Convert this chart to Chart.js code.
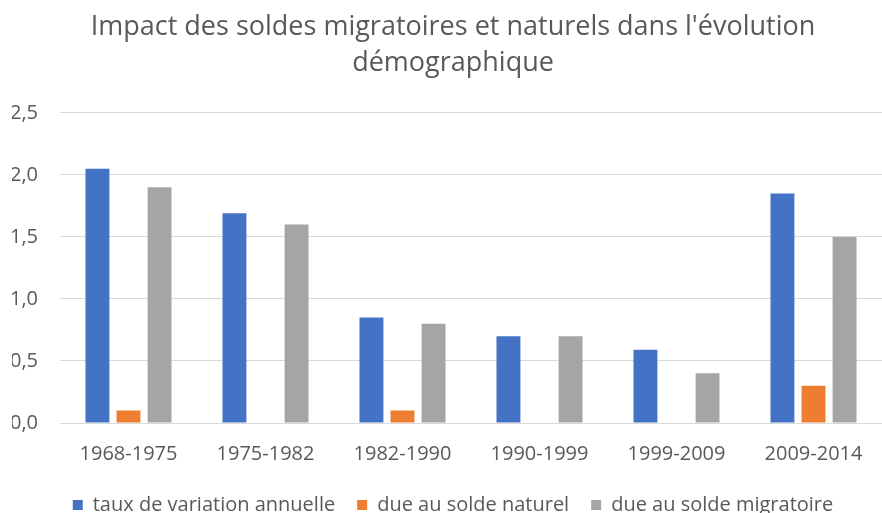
<!DOCTYPE html>
<html>
<head>
<meta charset="utf-8">
<script src="https://cdn.jsdelivr.net/npm/chart.js@4/dist/chart.umd.min.js"></script>
<style>
    html, body { margin: 0; padding: 0; background: #fff; }
    #wrap { width: 882px; height: 513px; }
</style>
</head>
<body>
<div id="wrap"><canvas id="chart" width="882" height="513"></canvas></div>
<script>
const periods = ["1968-1975", "1975-1982", "1982-1990", "1990-1999", "1999-2009", "2009-2014"];
const tauxVariation = [2.05, 1.69, 0.85, 0.7, 0.59, 1.85];
const soldeNaturel = [0.1, 0, 0.1, 0, 0, 0.3];
const soldeMigratoire = [1.9, 1.6, 0.8, 0.7, 0.4, 1.5];
const yTicks = [0, 0.5, 1, 1.5, 2, 2.5];

const textColor = "#595959";
const fontFamily = "'Open Sans', sans-serif";

const makeSet = (label, data, color) => ({
    label,
    data,
    backgroundColor: color,
    borderWidth: 0,
    categoryPercentage: 0.68,
    barPercentage: 0.77
});

new Chart(document.getElementById("chart"), {
    type: "bar",
    data: {
        labels: periods,
        datasets: [
            makeSet("taux de variation annuelle", tauxVariation, "#4472C4"),
            makeSet("due au solde naturel", soldeNaturel, "#ED7D31"),
            makeSet("due au solde migratoire", soldeMigratoire, "#A5A5A5")
        ]
    },
    options: {
        responsive: false,
        animation: false,
        // the reference is cropped on the right and its legend sits low,
        // so the layout runs a little past the right and bottom edges
        layout: { padding: { left: 12, right: -12, top: 9, bottom: -12 } },
        plugins: {
            title: {
                display: true,
                text: ["Impact des soldes migratoires et naturels dans l'évolution", "démographique"],
                color: textColor,
                font: { family: fontFamily, size: 27, weight: "normal", lineHeight: 1.33 },
                padding: { top: 0, bottom: 32 }
            },
            legend: {
                position: "bottom",
                labels: {
                    color: textColor,
                    font: { family: fontFamily, size: 20 },
                    boxWidth: 10,
                    boxHeight: 10,
                    padding: 22
                }
            },
            tooltip: { enabled: false }
        },
        scales: {
            x: {
                afterFit: (scale) => {
                    scale.height = 50;
                },
                grid: { display: false },
                border: { display: false },
                ticks: { color: textColor, font: { family: fontFamily, size: 20 }, padding: 11 }
            },
            y: {
                min: 0,
                max: 2.5,
                afterBuildTicks: (scale) => {
                    scale.ticks = yTicks.map((v) => ({ value: v }));
                },
                afterFit: (scale) => {
                    scale.width = 48;
                },
                grid: { color: "#D9D9D9", lineWidth: 1, drawTicks: false },
                border: { display: false },
                ticks: {
                    color: textColor,
                    font: { family: fontFamily, size: 20 },
                    padding: 22,
                    callback: (v) => v.toFixed(1).replace(".", ",")
                }
            }
        }
    }
});
</script>
</body>
</html>
